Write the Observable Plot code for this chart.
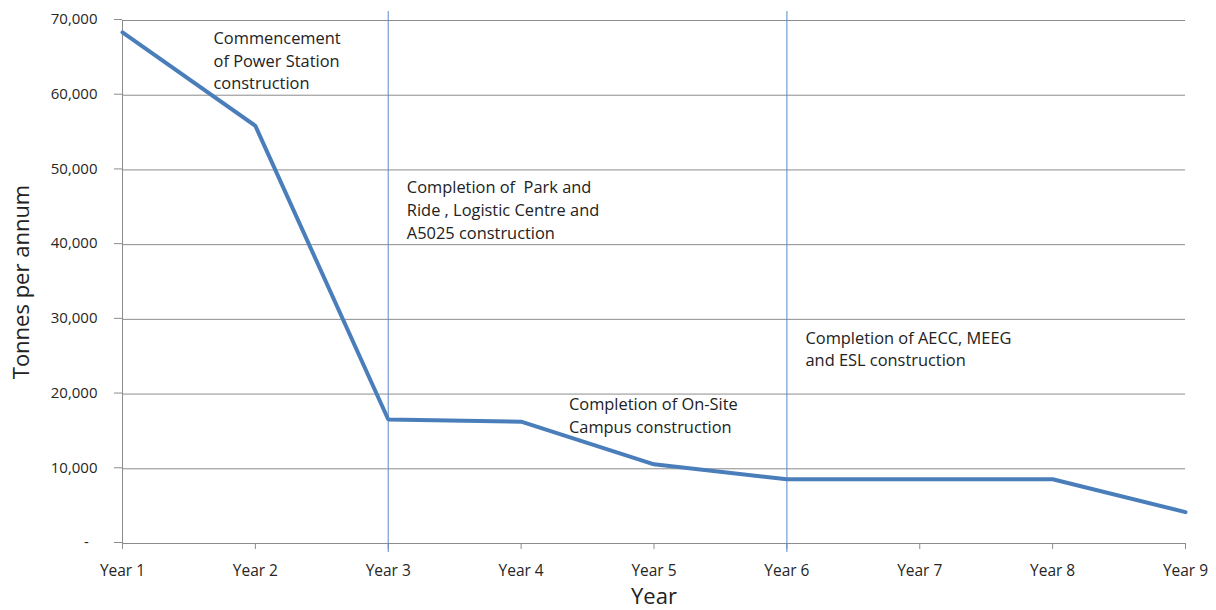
<!DOCTYPE html>
<html>
<head>
<meta charset="utf-8">
<script src="https://cdn.jsdelivr.net/npm/d3@7"></script>
<script src="https://cdn.jsdelivr.net/npm/@observablehq/plot@0.6"></script>
<style>
  html, body { margin: 0; padding: 0; background: #fff; }
  #chart svg { display: block; }
</style>
</head>
<body>
<div id="chart"></div>
<script>
// Data
const years = ["Year 1", "Year 2", "Year 3", "Year 4", "Year 5", "Year 6", "Year 7", "Year 8", "Year 9"];
const tonnes = [68400, 55900, 16600, 16300, 10600, 8600, 8600, 8600, 4200];
const yTicks = [0, 10000, 20000, 30000, 40000, 50000, 60000, 70000];
const milestoneYears = [3, 6];
const noteTexts = [
  "Commencement\nof Power Station\nconstruction",
  "Completion of  Park and\nRide , Logistic Centre and\nA5025 construction",
  "Completion of On-Site\nCampus construction",
  "Completion of AECC, MEEG\nand ESL construction"
];
const noteX = [1.685, 3.14, 4.36, 6.14];
const noteY = [64800, 44800, 17300, 26200];

const series = years.map((label, i) => ({idx: i + 1, label, value: tonnes[i]}));
const notes = noteTexts.map((t, i) => ({x: noteX[i], y: noteY[i], text: t}));
const font = "'Open Sans', sans-serif";
const blue = "#4a7ebb";

const chart = Plot.plot({
  width: 1216,
  height: 610,
  marginLeft: 122,
  marginRight: 31,
  marginTop: 20,
  marginBottom: 67,
  style: {fontFamily: font, background: "#fff"},
  x: {type: "linear", domain: [1, 9]},
  y: {domain: [0, 70000]},
  marks: [
    Plot.gridY(yTicks.filter(d => d > 0), {stroke: "#8c8c8c", strokeOpacity: 1, strokeWidth: 1}),
    Plot.ruleY([0], {stroke: "#8c8c8c", strokeWidth: 1}),
    Plot.ruleX([1], {stroke: "#8c8c8c", strokeWidth: 1}),
    Plot.axisY({
      ticks: yTicks,
      tickFormat: d => d === 0 ? "-\u2007" : d3.format(",")(d),
      tickSize: 8,
      tickPadding: 17,
      dy: -1,
      stroke: "#8c8c8c",
      fill: "#262626",
      fontSize: 15,
      label: null
    }),
    Plot.axisX({
      ticks: years.map((_, i) => i + 1),
      tickFormat: d => years[d - 1],
      tickSize: 6,
      tickPadding: 15,
      stroke: "#8c8c8c",
      fill: "#262626",
      fontSize: 15.5,
      label: null
    }),
    Plot.ruleX(milestoneYears, {y1: 71200, y2: -1200, stroke: "#5b8ccc", strokeWidth: 1.2, strokeOpacity: 0.85, clip: false}),
    Plot.line(series, {x: "idx", y: "value", stroke: blue, strokeWidth: 4, strokeLinejoin: "miter"}),
    Plot.text(notes, {x: "x", y: "y", text: "text", textAnchor: "start", lineAnchor: "middle", lineHeight: 1.384, fontSize: 16.4, fill: "#222"}),
    Plot.text(["Tonnes per annum"], {frameAnchor: "left", rotate: -90, dx: -101, fontSize: 22, fill: "#222", textAnchor: "middle", lineAnchor: "middle"}),
    Plot.text(["Year"], {frameAnchor: "bottom", dy: 53, fontSize: 22, fill: "#222", textAnchor: "middle", lineAnchor: "middle"})
  ]
});
document.getElementById("chart").appendChild(chart);
</script>
</body>
</html>
